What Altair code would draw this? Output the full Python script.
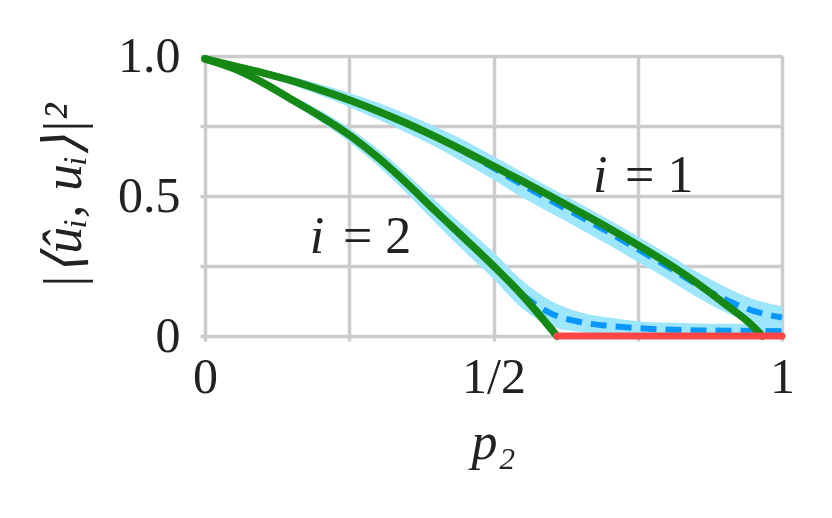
import altair as alt
import pandas as pd

# ---- data ----
xs = [0.0, 0.05, 0.1, 0.15, 0.2, 0.25, 0.3, 0.35, 0.4, 0.45, 0.5,
      0.55, 0.6, 0.65, 0.7, 0.75, 0.8, 0.85, 0.9, 0.95, 1.0]

# empirical (dashed) curves and their shaded bands
e1 = [0.99, 0.965, 0.94, 0.912, 0.879, 0.843, 0.803, 0.759, 0.711, 0.658, 0.6,
      0.54, 0.483, 0.427, 0.37, 0.31, 0.25, 0.187, 0.132, 0.09, 0.066]
e1_lo = [0.985, 0.957, 0.928, 0.897, 0.859, 0.818, 0.773, 0.726, 0.675, 0.618, 0.558,
         0.495, 0.438, 0.382, 0.325, 0.265, 0.205, 0.142, 0.087, 0.048, 0.026]
e1_hi = [0.995, 0.973, 0.952, 0.927, 0.899, 0.868, 0.833, 0.792, 0.747, 0.698, 0.642,
         0.585, 0.528, 0.472, 0.415, 0.355, 0.295, 0.232, 0.177, 0.132, 0.106]

e2 = [0.99, 0.955, 0.905, 0.845, 0.785, 0.718, 0.637, 0.543, 0.443, 0.346, 0.252,
      0.148, 0.08, 0.05, 0.036, 0.028, 0.023, 0.02, 0.019, 0.018, 0.017]
e2_lo = [0.985, 0.947, 0.893, 0.83, 0.765, 0.693, 0.607, 0.508, 0.403, 0.301, 0.204,
         0.098, 0.035, 0.015, 0.006, 0.003, 0.0, 0.0, 0.0, 0.0, 0.0]
e2_hi = [0.995, 0.963, 0.917, 0.86, 0.805, 0.743, 0.667, 0.578, 0.483, 0.391, 0.3,
         0.198, 0.125, 0.085, 0.066, 0.053, 0.048, 0.045, 0.044, 0.043, 0.042]

# theoretical (green) curves
t1_x = [0.0, 0.05, 0.1, 0.15, 0.2, 0.25, 0.3, 0.35, 0.4, 0.45, 0.5,
        0.55, 0.6, 0.65, 0.7, 0.75, 0.8, 0.85, 0.9, 0.95, 0.966]
t1 = [0.99, 0.965, 0.94, 0.912, 0.879, 0.843, 0.803, 0.759, 0.711, 0.66, 0.607,
      0.553, 0.498, 0.442, 0.385, 0.325, 0.262, 0.193, 0.116, 0.034, 0.0]
t2_x = [0.0, 0.05, 0.1, 0.15, 0.2, 0.25, 0.3, 0.35, 0.4, 0.45, 0.5, 0.55, 0.6, 0.61]
t2 = [0.99, 0.955, 0.905, 0.845, 0.785, 0.718, 0.637, 0.545, 0.445, 0.348, 0.25,
      0.145, 0.025, 0.0]

# zero segment (red)
red_x = [0.61, 1.0]
red_y = [0.0, 0.0]

# annotations
ann_i_x = [0.685, 0.194]
ann_eq_x = [0.728, 0.239]
ann_y = [0.514, 0.296]
ann_eq_text = ["= 1", "= 2"]

tick_vals = [0, 0.25, 0.5, 0.75, 1]

# ---- tables ----
band = pd.DataFrame({
    "x": xs * 2, "lo": e1_lo + e2_lo, "hi": e1_hi + e2_hi,
    "s": ["1"] * len(xs) + ["2"] * len(xs)})
emp = pd.DataFrame({"x": xs * 2, "y": e1 + e2,
                    "s": ["1"] * len(xs) + ["2"] * len(xs)})
theo = pd.DataFrame({"x": t1_x + t2_x, "y": t1 + t2,
                     "s": ["1"] * len(t1_x) + ["2"] * len(t2_x)})
red = pd.DataFrame({"x": red_x, "y": red_y})
ann = pd.DataFrame({"xi": ann_i_x, "xe": ann_eq_x, "y": ann_y, "t": ann_eq_text})

FONT = "Liberation Serif"
GRID = "#cccccc"

xscale = alt.Scale(domain=[0, 1], nice=False, zero=False)
yscale = alt.Scale(domain=[0, 1], nice=False, zero=False)

xaxis = alt.Axis(
    values=tick_vals,
    labelExpr="datum.value == 0 ? '0' : datum.value == 0.5 ? '1/2' : datum.value == 1 ? '1' : ''",
    grid=True, gridColor=GRID, gridWidth=3.5, domain=False,
    ticks=True, tickColor=GRID, tickWidth=3.5, tickSize=5,
    labelFont=FONT, labelFontSize=50, labelColor="#222222", labelPadding=11,
    labelFlush=False, labelOverlap=False,
    title="p₂", titleFont=FONT, titleFontSize=52, titleFontStyle="italic",
    titleFontWeight="normal", titleColor="#222222",
    titleX=288, titleY=122, titleBaseline="alphabetic", titleAlign="center",
)
yaxis = alt.Axis(
    values=tick_vals,
    labelExpr="datum.value == 0 ? '0' : datum.value == 0.5 ? '0.5' : datum.value == 1 ? '1.0' : ''",
    grid=True, gridColor=GRID, gridWidth=3.5, domain=False,
    ticks=True, tickColor=GRID, tickWidth=3.5, tickSize=5,
    labelFont=FONT, labelFontSize=50, labelColor="#222222", labelPadding=20,
    labelFlush=False, labelOverlap=False, labelBaseline="middle",
    title="|⟨ûᵢ, uᵢ⟩|²", titleFont=FONT, titleFontSize=54, titleFontStyle="italic",
    titleFontWeight="normal", titleColor="#222222",
    titleX=-141, titleY=140, titleAngle=270, titleAlign="center", titleBaseline="middle",
)

band_layer = alt.Chart(band).mark_area(color="#9ee6fc", opacity=1, interpolate="monotone").encode(
    x=alt.X("x:Q", scale=xscale, axis=xaxis),
    y=alt.Y("lo:Q", scale=yscale, axis=yaxis, stack=None),
    y2="hi:Q",
    detail="s:N",
)
emp_layer = alt.Chart(emp).mark_line(color="#0996ff", strokeWidth=6, strokeDash=[16, 9],
                                     interpolate="monotone").encode(
    x=alt.X("x:Q", scale=xscale), y=alt.Y("y:Q", scale=yscale), detail="s:N")
theo_layer = alt.Chart(theo).mark_line(color="#158815", strokeWidth=7.5, strokeCap="round",
                                       interpolate="monotone").encode(
    x=alt.X("x:Q", scale=xscale), y=alt.Y("y:Q", scale=yscale), detail="s:N")
red_layer = alt.Chart(red).mark_line(color="#ff4646", strokeWidth=7, strokeCap="round").encode(
    x=alt.X("x:Q", scale=xscale), y=alt.Y("y:Q", scale=yscale))

ann_i = alt.Chart(ann).mark_text(font=FONT, fontSize=52, fontStyle="italic", color="#222222",
                                 align="center", baseline="alphabetic").encode(
    x=alt.X("xi:Q", scale=xscale), y=alt.Y("y:Q", scale=yscale), text=alt.value("i"))
ann_eq = alt.Chart(ann).mark_text(font=FONT, fontSize=52, color="#222222",
                                  align="left", baseline="alphabetic").encode(
    x=alt.X("xe:Q", scale=xscale), y=alt.Y("y:Q", scale=yscale), text="t:N")

chart = alt.layer(band_layer, emp_layer, theo_layer, red_layer, ann_i, ann_eq).properties(
    width=577, height=280,
    autosize=alt.AutoSizeParams(type="none"),
    padding={"left": 197, "top": 48, "right": 42, "bottom": 174},
).configure_view(stroke=None).configure(background="white")

chart.save("out.html", embed_options={"renderer": "svg", "actions": False})
